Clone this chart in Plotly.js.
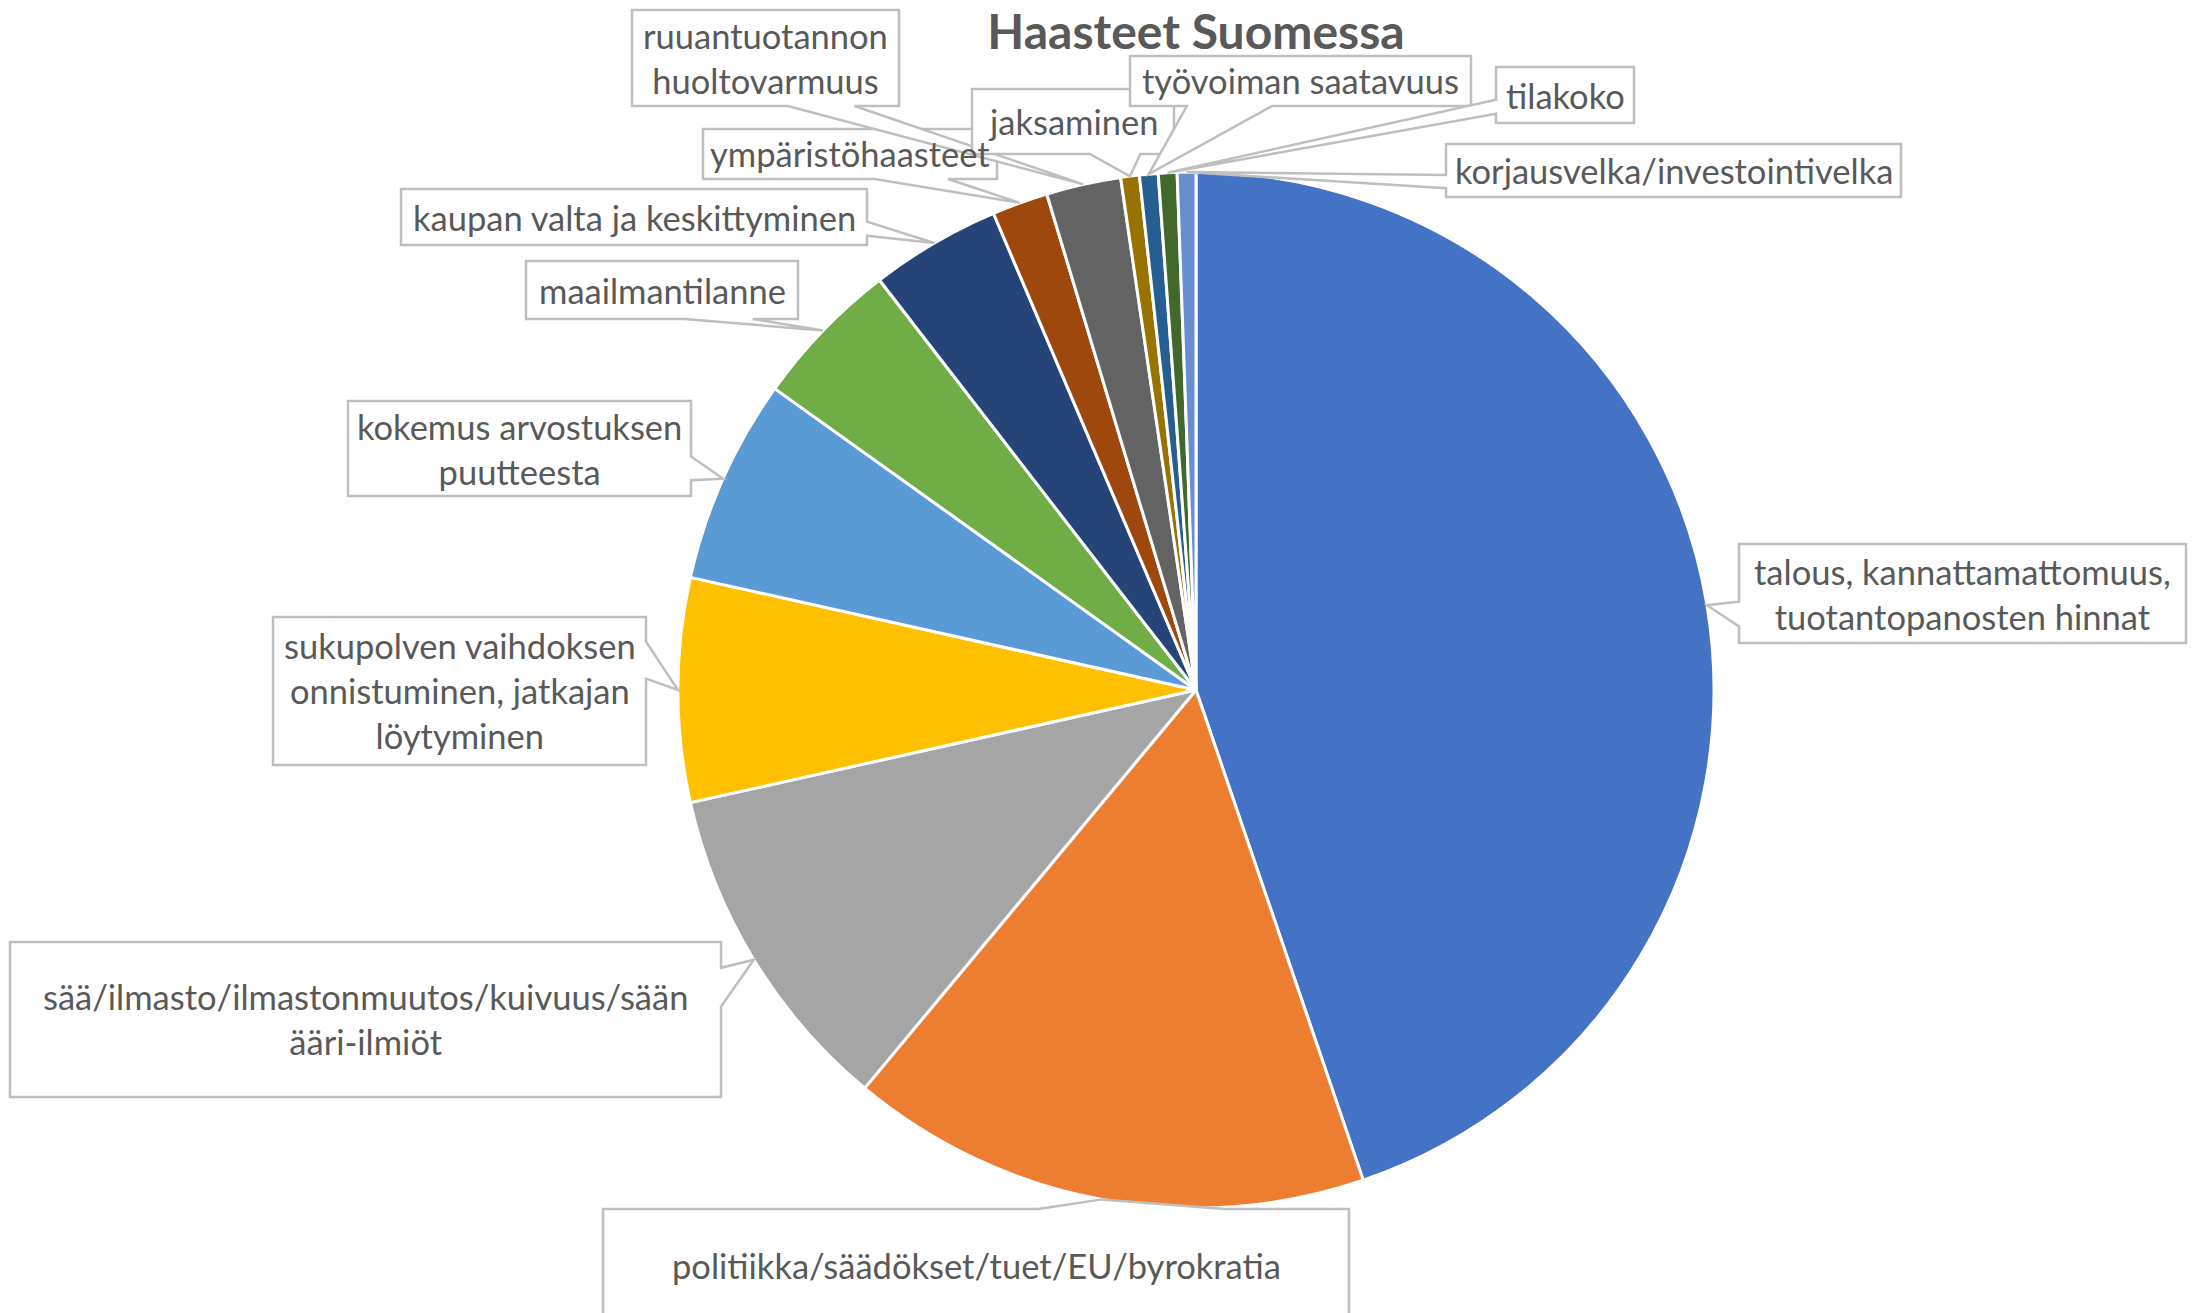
<!DOCTYPE html>
<html>
<head>
<meta charset="utf-8">
<script src="https://cdn.plot.ly/plotly-3.0.1.min.js"></script>
<style>html,body{margin:0;padding:0;background:#fff;}#chart{width:2192px;height:1313px;}</style>
</head>
<body>
<div id="chart"></div>
<script>
// ---- data ----
const title = 'Haasteet Suomessa';
const categories = [
  'talous, kannattamattomuus, tuotantopanosten hinnat',
  'politiikka/säädökset/tuet/EU/byrokratia',
  'sää/ilmasto/ilmastonmuutos/kuivuus/sään ääri-ilmiöt',
  'sukupolven vaihdoksen onnistuminen, jatkajan löytyminen',
  'kokemus arvostuksen puutteesta',
  'maailmantilanne',
  'kaupan valta ja keskittyminen',
  'ympäristöhaasteet',
  'ruuantuotannon huoltovarmuus',
  'jaksaminen',
  'työvoiman saatavuus',
  'tilakoko',
  'korjausvelka/investointivelka'
];
const values = [77, 28, 18, 12, 11, 8, 7, 3, 4, 1, 1, 1, 1];
const labelText = [
  'talous, kannattamattomuus,<br>tuotantopanosten hinnat',
  'politiikka/säädökset/tuet/EU/byrokratia',
  'sää/ilmasto/ilmastonmuutos/kuivuus/sään<br>ääri-ilmiöt',
  'sukupolven vaihdoksen<br>onnistuminen, jatkajan<br>löytyminen',
  'kokemus arvostuksen<br>puutteesta',
  'maailmantilanne',
  'kaupan valta ja keskittyminen',
  'ympäristöhaasteet',
  'ruuantuotannon<br>huoltovarmuus',
  'jaksaminen',
  'työvoiman saatavuus',
  'tilakoko',
  'korjausvelka/investointivelka'
];
const colors = ['#4472C4','#ED7D31','#A5A5A5','#FFC000','#5B9BD5','#70AD47',
                '#264478','#9E480E','#636363','#997300','#255E91','#43682B','#698ED0'];

// ---- layout (pixels) ----
const W = 2192, H = 1313;
const PIE_CX = 1196, PIE_CY = 690, PIE_R = 518;
// callout boxes [x0, y0, x1, y1] in pixels
const boxes = [
  [1739, 544, 2186, 643],
  [603, 1209, 1349, 1321],
  [10, 942, 721, 1097],
  [273, 617, 646, 765],
  [348, 401, 691, 496],
  [526, 261, 798, 319],
  [401, 189, 867, 245],
  [703, 129, 997, 179],
  [632, 10, 899, 106],
  [972, 89, 1174, 154],
  [1130, 56, 1471, 106],
  [1496, 67, 1634, 123],
  [1446, 144, 1901, 197]
];

const px = x => x / W;
const py = y => 1 - y / H;
const pt = (x, y) => px(x).toFixed(5) + ',' + py(y).toFixed(5);

// tips from data: mid angle of each slice on the perimeter (clockwise from 12 o'clock)
const total = values.reduce((a, b) => a + b, 0);
let cum = 0;
const tips = values.map(v => {
  const th = 2 * Math.PI * (cum + v / 2) / total;
  cum += v;
  return [PIE_CX + PIE_R * Math.sin(th), PIE_CY - PIE_R * Math.cos(th)];
});

// Excel-like wedgeRectCallout path
function calloutPath(b, tip) {
  const [x0, y0, x1, y1] = b;
  const w = x1 - x0, h = y1 - y0;
  const cx = (x0 + x1) / 2, cy = (y0 + y1) / 2;
  const dxPos = tip[0] - cx, dyPos = tip[1] - cy;
  const horiz = Math.abs(dxPos * h) > Math.abs(dyPos * w);
  let side;
  if (horiz) side = dxPos < 0 ? 'L' : 'R'; else side = dyPos < 0 ? 'T' : 'B';
  const yb1 = y0 + h * (dyPos > 0 ? 7 : 2) / 12, yb2 = y0 + h * (dyPos > 0 ? 10 : 5) / 12;
  const xb1 = x0 + w * (dxPos > 0 ? 7 : 2) / 12, xb2 = x0 + w * (dxPos > 0 ? 10 : 5) / 12;
  let d = 'M' + pt(x0, y0);
  if (side === 'T') d += ' L' + pt(xb1, y0) + ' L' + pt(tip[0], tip[1]) + ' L' + pt(xb2, y0);
  d += ' L' + pt(x1, y0);
  if (side === 'R') d += ' L' + pt(x1, yb1) + ' L' + pt(tip[0], tip[1]) + ' L' + pt(x1, yb2);
  d += ' L' + pt(x1, y1);
  if (side === 'B') d += ' L' + pt(xb2, y1) + ' L' + pt(tip[0], tip[1]) + ' L' + pt(xb1, y1);
  d += ' L' + pt(x0, y1);
  if (side === 'L') d += ' L' + pt(x0, yb2) + ' L' + pt(tip[0], tip[1]) + ' L' + pt(x0, yb1);
  d += ' Z';
  return d;
}

const shapes = boxes.map((b, i) => ({
  type: 'path', xref: 'paper', yref: 'paper', layer: 'above',
  path: calloutPath(b, tips[i]),
  fillcolor: '#FFFFFF',
  line: { color: '#BFBFBF', width: 2.5 }
}));

const annotations = boxes.map((b, i) => ({
  xref: 'paper', yref: 'paper',
  x: px((b[0] + b[2]) / 2), y: py((b[1] + b[3]) / 2),
  xanchor: 'center', yanchor: 'middle',
  text: labelText[i], showarrow: false, align: 'center',
  font: { family: 'Lato, "Open Sans", sans-serif', size: 34.5, color: '#595959' }
}));

const trace = {
  type: 'pie',
  labels: categories,
  values: values,
  sort: false,
  direction: 'clockwise',
  rotation: 0,
  textinfo: 'none',
  hoverinfo: 'label+value',
  showlegend: false,
  marker: { colors: colors, line: { color: '#FFFFFF', width: 3 } },
  domain: {
    x: [px(PIE_CX - PIE_R), px(PIE_CX + PIE_R)],
    y: [py(PIE_CY + PIE_R), py(PIE_CY - PIE_R)]
  }
};

const layout = {
  width: W, height: H,
  margin: { l: 0, r: 0, t: 0, b: 0 },
  paper_bgcolor: '#FFFFFF',
  plot_bgcolor: '#FFFFFF',
  showlegend: false,
  title: {
    text: '<b>' + title + '</b>',
    x: px(1196), xanchor: 'center', xref: 'paper',
    y: py(32), yanchor: 'middle', yref: 'paper',
    font: { family: 'Lato, "Open Sans", sans-serif', size: 48, color: '#595959' }
  },
  shapes: shapes,
  annotations: annotations
};

Plotly.newPlot('chart', [trace], layout, { displayModeBar: false, staticPlot: true });
</script>
</body>
</html>
